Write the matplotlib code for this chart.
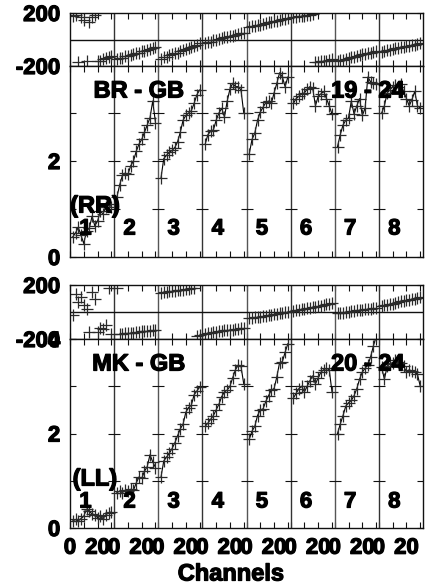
import numpy as np
import matplotlib
matplotlib.use("Agg")
import matplotlib.pyplot as plt
import matplotlib.patheffects as pe

plt.rcParams["font.family"] = ["Liberation Sans", "DejaVu Sans"]
plt.rcParams["font.weight"] = "bold"

W, H = 430, 585
NPAN = 8
PANW = 32

CHANNELS = [2, 4, 6, 8, 10, 12, 14, 16, 18, 20, 22, 24, 26, 28, 30]
PANEL_LABELS = ["1", "2", "3", "4", "5", "6", "7", "8"]

# BR - GB, RR
BR_PHS = [
    [178, 184, -168, 172, 150, -166, 135, 170, 182, -165, -160, -150, -142, -132, -128],
    [-150, -140, -138, -128, -126, -116, -112, -104, -101, -90, -86, -79, -73, -64, -56],
    [-148, -134, -129, -119, -113, -104, -99, -88, -83, -71, -66, -57, -49, -39, -30],
    [-28, -19, -16, -7, -3, 6, 9, 16, 19, 27, 29, 36, 39, 47, 50],
    [92, 99, 102, 109, 111, 119, 121, 129, 131, 139, 141, 149, 151, 157, 160],
    [168, 173, 175, 179, 181, 186, 187, 191, -172, -167, -166, -161, -159, -154, -150],
    [-162, -154, -151, -144, -141, -134, -129, -121, -119, -111, -109, -101, -99, -93, -90],
    [-92, -87, -83, -77, -73, -67, -63, -57, -56, -49, -47, -41, -39, -33, -30],
]
BR_AMP = [
    [0.42, 0.50, 0.62, 0.45, 0.28, 0.55, 0.60, 0.85, 0.65, 0.75, 0.95, 0.90, 1.05, 1.10, 1.05],
    [1.25, 1.50, 1.70, 1.75, 1.72, 1.90, 2.00, 2.20, 2.35, 2.45, 2.60, 2.75, 2.90, 3.25, 2.80],
    [1.65, 2.05, 2.12, 2.18, 2.22, 2.28, 2.40, 2.60, 2.85, 2.95, 3.00, 3.05, 3.20, 3.38, 3.48],
    [2.35, 2.55, 2.62, 2.65, 2.85, 3.00, 3.10, 2.92, 3.25, 3.50, 3.62, 3.55, 3.55, 3.48, 3.00],
    [2.15, 2.45, 2.58, 2.85, 3.02, 3.12, 3.22, 3.25, 3.20, 3.42, 3.62, 3.84, 3.75, 3.55, 3.75],
    [3.20, 3.30, 3.35, 3.40, 3.42, 3.50, 3.55, 3.52, 3.15, 3.35, 3.40, 3.45, 3.30, 3.15, 2.98],
    [2.30, 2.55, 2.75, 2.85, 2.90, 3.25, 2.98, 3.15, 3.30, 2.95, 3.10, 3.75, 3.65, 3.62, 3.60],
    [3.00, 3.15, 3.42, 3.48, 3.55, 3.58, 3.55, 3.60, 3.45, 3.30, 3.15, 3.28, 3.45, 3.15, 3.10],
]

# MK - GB, LL
MK_PHS = [
    [-20, 135, 75, 110, 50, 20, -145, 150, 100, -145, -120, -125, -95, 175, -160],
    [176, -165, -161, -157, -156, -154, -152, -149, -147, -144, -143, -139, -138, -135, -133],
    [140, 146, 147, 153, 154, 159, 160, 164, 165, 169, 170, 175, 176, -175, -168],
    [-165, -159, -157, -151, -149, -144, -142, -137, -136, -131, -130, -126, -125, -121, -120],
    [-46, -41, -40, -35, -34, -29, -27, -22, -21, -15, -14, -9, -7, -2, 2],
    [10, 15, 17, 23, 25, 31, 32, 38, 40, 46, 48, 54, 56, 62, 66],
    [-10, -6, -5, 0, 1, 6, 7, 12, 13, 18, 19, 23, 24, 29, 31],
    [45, 51, 53, 60, 62, 69, 71, 78, 80, 87, 89, 96, 99, 106, 110],
]
MK_AMP = [
    [0.15, 0.18, 0.15, 0.20, 0.25, 0.40, 0.35, 0.30, 0.28, 0.22, 0.25, 0.20, 0.28, 0.32, 0.34],
    [0.75, 0.78, 0.75, 0.80, 0.78, 0.82, 0.80, 0.95, 1.08, 1.05, 1.20, 1.30, 1.55, 1.40, 1.28],
    [1.08, 1.42, 1.50, 1.58, 1.68, 1.80, 1.95, 2.10, 2.20, 2.45, 2.55, 2.60, 2.82, 2.90, 2.98],
    [2.15, 2.22, 2.30, 2.38, 2.50, 2.62, 2.78, 2.88, 2.92, 3.00, 3.18, 3.35, 3.45, 3.42, 3.05],
    [1.88, 2.05, 2.15, 2.38, 2.50, 2.52, 2.68, 2.80, 2.92, 2.95, 3.20, 3.50, 3.52, 3.72, 3.90],
    [2.75, 2.85, 2.95, 3.00, 2.88, 3.00, 3.12, 3.22, 3.05, 3.18, 3.30, 3.35, 3.38, 3.35, 2.88],
    [2.00, 2.20, 2.38, 2.58, 2.65, 2.70, 2.80, 2.95, 3.15, 3.30, 3.38, 3.45, 3.62, 3.85, 4.05],
    [3.40, 3.15, 3.42, 3.48, 3.50, 3.55, 3.52, 3.50, 3.42, 3.30, 3.35, 3.32, 3.30, 3.25, 3.00],
]

BLOCKS = [
    dict(phs=BR_PHS, amp=BR_AMP, base="BR - GB", ifs="19 - 24", pol="(RR)",
         phs_box=(13, 66), amp_box=(66, 257), ytop=3.98, amp_ticks=[0, 1, 2, 3], amp_lab=["0", "", "2", ""]),
    dict(phs=MK_PHS, amp=MK_AMP, base="MK - GB", ifs="20 - 24", pol="(LL)",
         phs_box=(285, 339), amp_box=(339, 528), ytop=3.9, amp_ticks=[0, 1, 2, 3, 4], amp_lab=["0", "", "2", "", "4"]),
]

X0, X1 = 70, 423
FRAME = "#111111"
HEAVY = [pe.withStroke(linewidth=0.9, foreground="black")]


def rect(top, bottom):
    return [X0 / W, 1 - bottom / H, (X1 - X0) / W, (bottom - top) / H]


def fpos(x, y):
    return x / W, 1 - y / H


def style(ax):
    ax.set_xlim(0, NPAN * PANW)
    for s in ax.spines.values():
        s.set_color(FRAME)
        s.set_linewidth(1.0)
    for p in range(1, NPAN):
        ax.axvline(p * PANW, color="#333333" if p % 2 else "#555555", lw=1.0)
    xt = [p * PANW + c for p in range(NPAN) for c in (0, 10, 20, 30)]
    ax.set_xticks(xt)
    ax.tick_params(axis="x", direction="in", length=4, width=0.8, top=True, bottom=True,
                   labelbottom=False, color=FRAME)
    ax.tick_params(axis="y", direction="in", length=4, width=0.8, left=True, right=True,
                   labelsize=16, pad=7, color=FRAME)


def heavy_labels(ax):
    for t in ax.get_xticklabels() + ax.get_yticklabels():
        t.set_path_effects(HEAVY)


fig = plt.figure(figsize=(W / 100, H / 100), dpi=100)

for bi, b in enumerate(BLOCKS):
    axp = fig.add_axes(rect(*b["phs_box"]))
    axa = fig.add_axes(rect(*b["amp_box"]))
    style(axp)
    style(axa)

    axp.set_ylim(-200, 200)
    axp.axhline(0, color=FRAME, lw=1.0)
    axp.set_yticks([-200, 200])
    axp.set_yticklabels(["-200", "200"])

    axa.set_ylim(0, b["ytop"])
    axa.set_yticks(b["amp_ticks"])
    axa.set_yticklabels(b["amp_lab"])
    for p in range(1, NPAN):
        axa.plot([p * PANW] * 3, [1, 2, 3], ls="none", marker="_", ms=8, mew=0.8, color=FRAME)

    for p in range(NPAN):
        x = p * PANW + np.array(CHANNELS)
        axp.plot(x, b["phs"][p], ls="none", marker="+", ms=8, mew=0.9, color="#2a2a2a", clip_on=True)
        axa.plot(x, b["amp"][p], "-", lw=0.8, color="black", marker="+", ms=8, mew=0.9,
                 mec="#2a2a2a", clip_on=True)

    ya = b["amp_box"][0]
    fig.text(*fpos(139, ya + 25), b["base"], fontsize=17, ha="center", va="center", path_effects=HEAVY)
    fig.text(*fpos(368, ya + 25), b["ifs"], fontsize=17, ha="center", va="center", path_effects=HEAVY)
    fig.text(*fpos(95, ya + 140), b["pol"], fontsize=17, ha="center", va="center", path_effects=HEAVY)
    for p in range(NPAN):
        xc = X0 + (p + 0.35) * (X1 - X0) / NPAN
        fig.text(*fpos(xc, ya + 163), PANEL_LABELS[p], fontsize=16, ha="center", va="center",
                 path_effects=HEAVY)

    if bi == 1:
        xt = [p * PANW + c for p in range(NPAN) for c in (0, 10, 20, 30)]
        lab = ["0", "", "20", ""] * NPAN
        axa.set_xticks(xt)
        axa.set_xticklabels(lab)
        axa.tick_params(axis="x", labelbottom=True, labelsize=16, pad=7)

    heavy_labels(axp)
    heavy_labels(axa)

fig.text(*fpos(231, 574), "Channels", fontsize=17, ha="center", va="center", path_effects=HEAVY)

fig.savefig("out.png", dpi=100)
